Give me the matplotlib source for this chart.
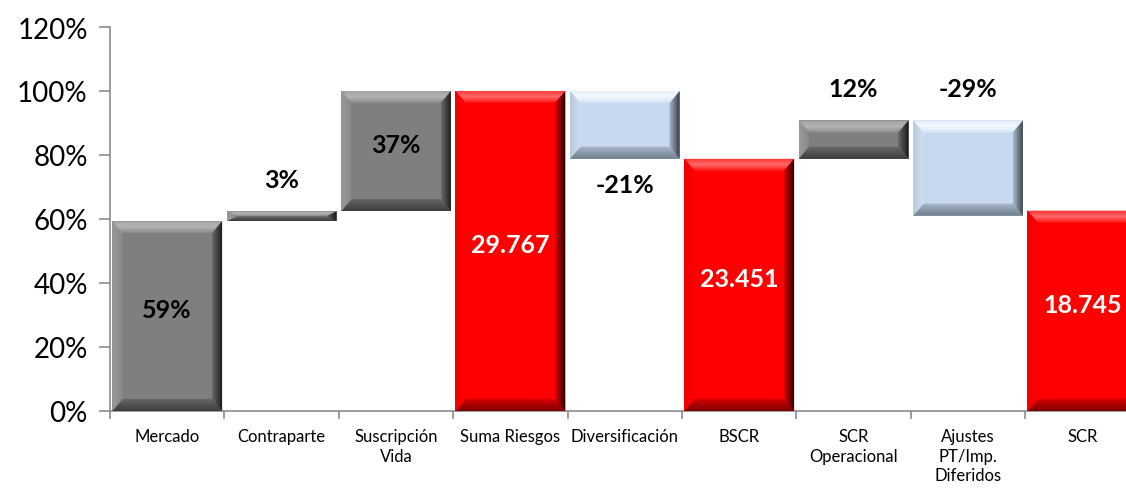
import numpy as np
import matplotlib
matplotlib.use('Agg')
import matplotlib.pyplot as plt
from matplotlib.patches import Polygon
from matplotlib.colors import LinearSegmentedColormap
from matplotlib.ticker import FuncFormatter

# %% data (percent of Suma Riesgos)
categories = ['Mercado', 'Contraparte', 'Suscripción\nVida', 'Suma Riesgos',
              'Diversificación', 'BSCR', 'SCR\nOperacional',
              'Ajustes\nPT/Imp.\nDiferidos', 'SCR']
bar_bottom = [0.0, 59.3, 62.4, 0.0, 78.8, 0.0, 78.8, 61.0, 0.0]
bar_top    = [59.3, 62.4, 100.0, 100.0, 100.0, 78.8, 90.8, 90.8, 62.6]
kind       = ['pos', 'pos', 'pos', 'total', 'neg', 'total', 'pos', 'neg', 'total']
labels     = ['59%', '3%', '37%', '29.767', '-21%', '23.451', '12%', '-29%', '18.745']
label_mode = ['in', 'above', 'in', 'in', 'below', 'in', 'above', 'above', 'in']

# %% styles: each bevel goes inner -> outer
palette = {
    'pos': dict(base='#7f7f7f', top=['#8a8a8a', '#b4b4b4', '#a0a0a0'],
                left=['#888888', '#9a9a9a'], bottom=['#6a6a6a', '#3c3c3c'],
                right=['#6a6a6a', '#161616']),
    'neg': dict(base='#c6d9f1', top=['#d2e2f5', '#f4f8fd', '#e2ecf8'],
                left=['#cfdff3', '#b9c9dc'], bottom=['#a9bacd', '#6f7c8b'],
                right=['#a9bacd', '#343c46']),
    'total': dict(base='#ff0000', top=['#ff1010', '#ff6a6a', '#ff3030'],
                  left=['#ff0000', '#ee0000'], bottom=['#dd0000', '#7a0000'],
                  right=['#dd0000', '#200000']),
}
txt_color = {'pos': 'black', 'neg': 'black', 'total': 'white'}

FONT = 'Lato'
W = 0.96            # bar width
BW, BH = 0.09, 3.8  # bevel size in data units

fig = plt.figure(figsize=(11.26, 4.89), dpi=100)
ax = fig.add_axes([110/1126, 77/489, 1029.6/1126, 384/489])


def grad_poly(ax, pts, extent, horizontal, reverse, stops):
    cmap = LinearSegmentedColormap.from_list('g', stops)
    ramp = np.linspace(0, 1, 64)
    if reverse:
        ramp = ramp[::-1]
    img = ramp[None, :] if horizontal else ramp[:, None]
    poly = Polygon(pts, closed=True, facecolor='none', edgecolor='none')
    ax.add_patch(poly)
    im = ax.imshow(img, cmap=cmap, extent=extent, origin='lower',
                   aspect='auto', interpolation='bilinear', zorder=3)
    im.set_clip_path(poly)


def bevel_bar(ax, x, b, t, st):
    x0, x1 = x - W/2, x + W/2
    bh = min(BH, (t - b) / 2)
    bw = BW
    ax.bar(x, t - b, bottom=b, width=W, color=st['base'], linewidth=0, zorder=2)
    # top: inner at t-bh -> outer at t
    grad_poly(ax, [(x0, t), (x1, t), (x1 - bw, t - bh), (x0 + bw, t - bh)],
              (x0, x1, t - bh, t), False, False, st['top'])
    # bottom: inner at b+bh -> outer at b
    grad_poly(ax, [(x0, b), (x1, b), (x1 - bw, b + bh), (x0 + bw, b + bh)],
              (x0, x1, b, b + bh), False, True, st['bottom'])
    # left: inner at x0+bw -> outer at x0
    grad_poly(ax, [(x0, b), (x0, t), (x0 + bw, t - bh), (x0 + bw, b + bh)],
              (x0, x0 + bw, b, t), True, True, st['left'])
    # right: inner at x1-bw -> outer at x1
    grad_poly(ax, [(x1, b), (x1, t), (x1 - bw, t - bh), (x1 - bw, b + bh)],
              (x1 - bw, x1, b, t), True, False, st['right'])


for i, (b, t, k) in enumerate(zip(bar_bottom, bar_top, kind)):
    bevel_bar(ax, i, b, t, palette[k])
    if label_mode[i] == 'in':
        y = (b + t) / 2 + 2
    elif label_mode[i] == 'above':
        y = t + 10
    else:
        y = b - 8
    ax.text(i, y, labels[i], ha='center', va='center', fontsize=18,
            fontweight='bold', family=FONT, color=txt_color[k], zorder=5)

ax.set_xlim(-0.5, len(categories) - 0.5)
ax.set_ylim(0, 120)

# %% axes styling
for s in ['top', 'right']:
    ax.spines[s].set_visible(False)
for s in ['left', 'bottom']:
    ax.spines[s].set_color('#8c8c8c')
    ax.spines[s].set_linewidth(1.2)
    ax.spines[s].set_zorder(1)

ax.set_yticks(np.arange(0, 121, 20))
ax.yaxis.set_major_formatter(FuncFormatter(lambda v, p: f'{v:.0f}%'))
ax.tick_params(axis='y', length=8, width=1.2, color='#8c8c8c', pad=8,
               labelsize=20)
for lab in ax.get_yticklabels():
    lab.set_family(FONT)

ax.set_xticks(np.arange(len(categories)))
ax.set_xticklabels(categories, family=FONT, fontsize=12, linespacing=1.3)
ax.set_xticks(np.arange(len(categories) + 1) - 0.5, minor=True)
ax.tick_params(axis='x', which='major', length=0, pad=12)
ax.tick_params(axis='x', which='minor', length=6, width=1.2, color='#8c8c8c')

fig.savefig('out.png', dpi=100)
